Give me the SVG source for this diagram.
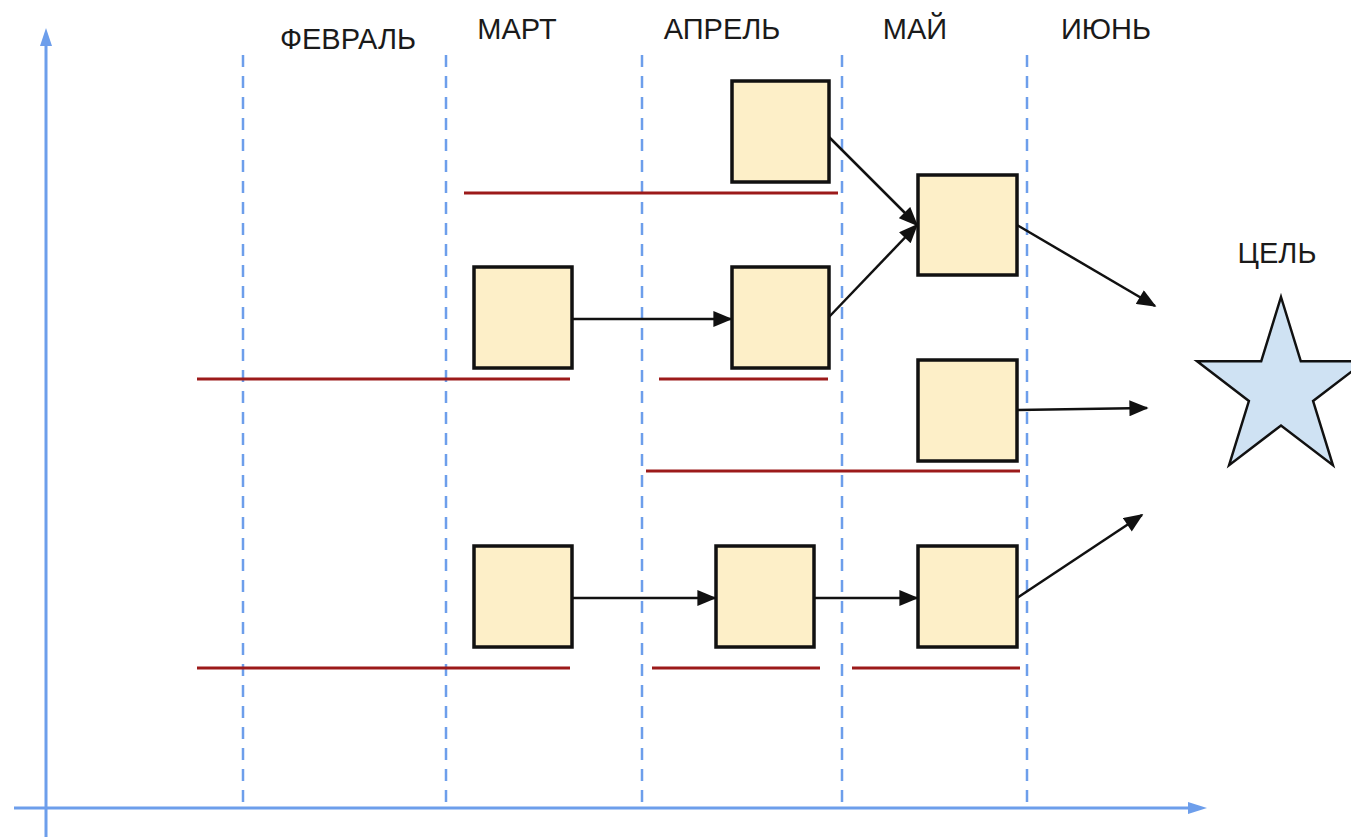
<svg xmlns="http://www.w3.org/2000/svg" width="1351" height="837" viewBox="0 0 1351 837">
<style>
.axis{stroke:#6d9eeb;stroke-width:3;fill:none}
.grid{stroke:#6d9eeb;stroke-width:2.5;stroke-dasharray:12 9;fill:none}
.bar{stroke:#9c1a1a;stroke-width:3;fill:none}
.box{fill:#fdefc8;stroke:#111;stroke-width:3.5}
.lbl{font-family:"Liberation Sans",Arial,sans-serif;font-size:29px;fill:#1a1a1a;text-anchor:middle}
</style>
<defs>
<marker id="arr" viewBox="0 0 12 10" refX="11" refY="5" markerWidth="20" markerHeight="16" markerUnits="userSpaceOnUse" orient="auto"><path d="M0,0 L12,5 L0,10 z" fill="#111"/></marker>
</defs>
<g id="axes">
<line class="axis" x1="46" y1="837" x2="46" y2="44"/>
<path d="M46,28 L52,46 L40,46 z" fill="#6d9eeb"/>
<line class="axis" x1="14" y1="808" x2="1190" y2="808"/>
<path d="M1207,808 L1188,802 L1188,814 z" fill="#6d9eeb"/>
</g>
<g id="grid">
<line class="grid" x1="243" y1="55" x2="243" y2="808"/>
<line class="grid" x1="446" y1="55" x2="446" y2="808"/>
<line class="grid" x1="642" y1="55" x2="642" y2="808"/>
<line class="grid" x1="842" y1="55" x2="842" y2="808"/>
<line class="grid" x1="1027" y1="55" x2="1027" y2="808"/>
</g>
<g id="labels">
<text class="lbl" x="348" y="49">ФЕВРАЛЬ</text>
<text class="lbl" x="517" y="39">МАРТ</text>
<text class="lbl" x="722" y="39">АПРЕЛЬ</text>
<text class="lbl" x="915" y="39">МАЙ</text>
<text class="lbl" x="1106" y="39">ИЮНЬ</text>
<text class="lbl" x="1277" y="263">ЦЕЛЬ</text>
</g>
<g id="bars">
<line class="bar" x1="464" y1="193" x2="838" y2="193"/>
<line class="bar" x1="197" y1="379" x2="570" y2="379"/>
<line class="bar" x1="659" y1="379" x2="828" y2="379"/>
<line class="bar" x1="646" y1="471" x2="1020" y2="471"/>
<line class="bar" x1="197" y1="668" x2="570" y2="668"/>
<line class="bar" x1="652" y1="668" x2="820" y2="668"/>
<line class="bar" x1="852" y1="668" x2="1020" y2="668"/>
</g>
<g id="connectors" stroke="#111" stroke-width="2.5" fill="none">
<line x1="572" y1="319" x2="731" y2="319" marker-end="url(#arr)"/>
<line x1="829" y1="137" x2="917" y2="225" marker-end="url(#arr)"/>
<line x1="829" y1="317" x2="917" y2="225" marker-end="url(#arr)"/>
<line x1="1017" y1="225" x2="1155" y2="306" marker-end="url(#arr)"/>
<line x1="1017" y1="410" x2="1147" y2="408" marker-end="url(#arr)"/>
<line x1="572" y1="598" x2="715" y2="598" marker-end="url(#arr)"/>
<line x1="814" y1="598" x2="917" y2="598" marker-end="url(#arr)"/>
<line x1="1017" y1="598" x2="1142" y2="515" marker-end="url(#arr)"/>
</g>
<g id="n1"><rect class="box" x="732" y="81" width="97" height="101"/></g>
<g id="n2"><rect class="box" x="918" y="175" width="99" height="100"/></g>
<g id="n3"><rect class="box" x="474" y="267" width="98" height="101"/></g>
<g id="n4"><rect class="box" x="732" y="267" width="97" height="101"/></g>
<g id="n5"><rect class="box" x="918" y="360" width="99" height="101"/></g>
<g id="n6"><rect class="box" x="474" y="546" width="98" height="101"/></g>
<g id="n7"><rect class="box" x="716" y="546" width="98" height="101"/></g>
<g id="n8"><rect class="box" x="918" y="546" width="99" height="101"/></g>
<g id="goal"><polygon points="1281,297 1300.8,361.3 1364.9,361.3 1313.1,401 1332.9,465.2 1281,425.5 1229.1,465.2 1248.9,401 1197.1,361.3 1261.2,361.3" fill="#cfe2f3" stroke="#111" stroke-width="2.5" stroke-linejoin="miter"/></g>
</svg>
